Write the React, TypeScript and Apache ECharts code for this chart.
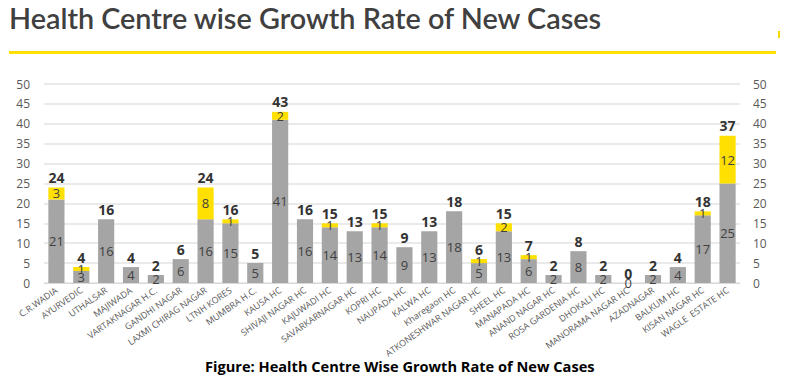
import React, { useEffect, useRef } from "react";
import * as echarts from "echarts";

const categories = [
  "C.R.WADIA", "AYURVEDIC", "UTHALSAR", "MAJIWADA", "VARTAKNAGAR H.C.", "GANDHI NAGAR",
  "LAXMI CHIRAG NAGAR", "LTNH KORES", "MUMBRA H.C.", "KAUSA HC", "SHIVAJI NAGAR HC",
  "KAJUWADI HC", "SAVARKARNAGAR HC", "KOPRI HC", "NAUPADA HC", "KALWA HC", "Kharegaon HC",
  "ATKONESHWAR NAGAR HC", "SHEEL HC", "MANAPADA HC", "ANAND NAGAR HC", "ROSA GARDENIA HC",
  "DHOKALI HC", "MANORAMA NAGAR HC", "AZADNAGAR", "BALKUM HC", "KISAN NAGAR HC", "WAGLE  ESTATE HC",
];
const previousCases = [21, 3, 16, 4, 2, 6, 16, 15, 5, 41, 16, 14, 13, 14, 9, 13, 18, 5, 13, 6, 2, 8, 2, 0, 2, 4, 17, 25];
const newCases = [3, 1, 0, 0, 0, 0, 8, 1, 0, 2, 0, 1, 0, 1, 0, 0, 0, 1, 2, 1, 0, 0, 0, 0, 0, 0, 1, 12];
const totals = previousCases.map((v, i) => v + newCases[i]);
const yTicks = { min: 0, max: 50, interval: 5 };

export default function App() {
  const ref = useRef<HTMLDivElement>(null);
  useEffect(() => {
    if (!ref.current) return;
    const chart = echarts.init(ref.current, null, { renderer: "svg" });
    const axisLabel = { color: "#595959", fontSize: 12, fontFamily: "Open Sans" };
    chart.setOption({
      animation: false,
      grid: { left: 44, right: 50, top: 84, bottom: 100 },
      graphic: [
        {
          type: "text", left: 9, top: 3,
          style: { text: "Health Centre wise Growth Rate of New Cases", fontSize: 28.8, fontWeight: 600, fontFamily: "Lato", fill: "#404040" },
        },
        { type: "rect", shape: { x: 9, y: 51, width: 767, height: 3 }, style: { fill: "#ffe000" } },
        { type: "rect", shape: { x: 778, y: 31, width: 2, height: 7 }, style: { fill: "#f5d800" } },
        {
          type: "text", left: 205, top: 358,
          style: { text: "Figure: Health Centre Wise Growth Rate of New Cases", fontSize: 14.6, fontWeight: "bold", fontFamily: "Open Sans", fill: "#000" },
        },
      ],
      xAxis: {
        type: "category",
        data: categories,
        axisTick: { show: false },
        axisLine: { lineStyle: { color: "#d9d9d9" } },
        axisLabel: { interval: 0, rotate: 35, fontSize: 9, color: "#595959", fontFamily: "Open Sans", margin: 6 },
      },
      yAxis: [
        {
          type: "value", ...yTicks,
          axisLabel: { ...axisLabel, margin: 14 },
          splitLine: { lineStyle: { color: "#e3e3e3", width: 1.5 } },
        },
        {
          type: "value", ...yTicks, position: "right",
          axisLabel: { ...axisLabel, margin: 13 },
          splitLine: { show: false },
        },
      ],
      series: [
        {
          name: "Previous", type: "bar", stack: "s", data: previousCases, barCategoryGap: "35%",
          itemStyle: { color: "#a5a5a5" },
          label: { show: true, position: "inside", color: "#404040", fontSize: 13, fontFamily: "Open Sans" },
        },
        {
          name: "New", type: "bar", stack: "s", data: newCases,
          itemStyle: { color: "#ffe000" },
          label: {
            show: true, position: "inside", color: "#404040", fontSize: 13, fontFamily: "Open Sans",
            formatter: (p: any) => (p.value ? String(p.value) : ""),
          },
        },
        {
          name: "Total", type: "bar", stack: "s", data: totals.map(() => 0),
          itemStyle: { color: "transparent" },
          label: {
            show: true, position: "top", distance: 3, color: "#333", fontSize: 14, fontWeight: "bold", fontFamily: "Open Sans",
            formatter: (p: any) => String(totals[p.dataIndex]),
          },
        },
      ],
    });
    return () => chart.dispose();
  }, []);
  return <div ref={ref} style={{ position: "fixed", left: 0, top: 0, width: 790, height: 383, background: "#fff" }} />;
}
